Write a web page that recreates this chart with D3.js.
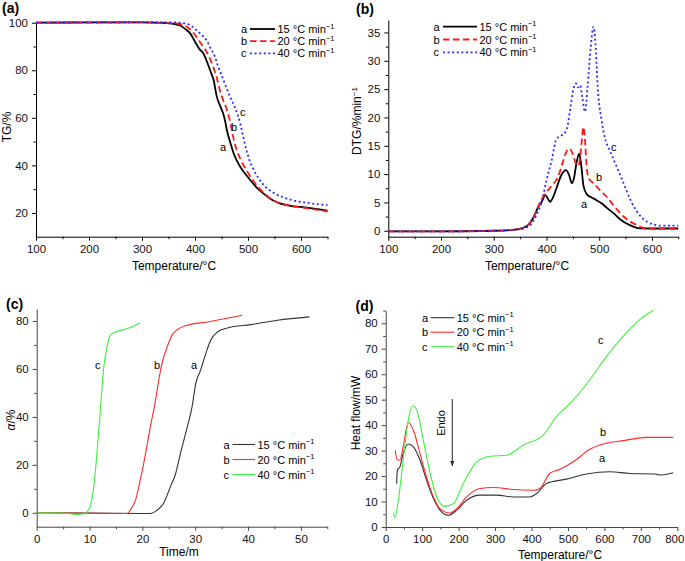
<!DOCTYPE html>
<html><head><meta charset="utf-8">
<script src="https://cdn.jsdelivr.net/npm/d3@7"></script>
<style>
body{margin:0;background:#fff;}
text{font-family:"Liberation Sans",Arial,Helvetica,sans-serif;}
</style></head><body>
<svg id="c" width="685" height="561"></svg>
<script>
// ---------- data ----------
const rateLabels = ["a", "b", "c"];
const rateTexts = ["15 °C min", "20 °C min", "40 °C min"];

const tgA = [[100,100],[200,100.1],[300,100.1],[340,99.9],[360,99.5],[372,98.8],[382,97.3],[391,95.5],[400,92],[408,89],[416,87],[421,84.5],[426,81.6],[431,78.5],[435,76],[441,69],[448,64.7],[454,61.2],[457,58.5],[460,55],[467,49.3],[473,45],[485,39.5],[500,35],[515,31],[530,28],[545,25.5],[560,24],[580,23],[600,22.5],[625,21.8],[650,21]];
const tgB = [[100,100],[300,100.1],[350,99.9],[370,99.5],[383,98.5],[393,96.8],[403,94],[412,91],[420,88.5],[428,85],[435,81],[441,77],[447,71.5],[453,67.5],[460,63.5],[465,59.5],[468,56.5],[472,52],[478,47],[486,42.5],[497,38],[510,33.5],[525,29.5],[540,26.5],[555,24.5],[575,23.2],[600,22.3],[625,21.5],[650,20.6]];
const tgC = [[100,100],[300,100.2],[360,100.1],[380,99.7],[392,98.8],[402,97],[412,95],[422,92.5],[430,89],[437,86],[443,82],[450,78],[457,74],[464,70],[470,67],[476,64],[481,61],[486,57],[491,52],[497,46.5],[503,42],[510,38.5],[520,34.5],[533,31],[548,28.5],[565,26.7],[585,25.3],[610,24.3],[630,23.7],[650,23.3]];

const dtgA = [[100,-0.1],[200,-0.1],[300,0],[340,0.2],[355,0.5],[365,1],[375,2.3],[385,4.3],[391,5.1],[398,6.3],[403,5.6],[407,5.1],[412,5.8],[420,7.8],[428,9.8],[437,10.7],[443,9.8],[448,8.4],[452,9.2],[457,12],[462,13.6],[466,11.5],[470,8],[476,6.5],[485,5.9],[495,5.4],[505,4.8],[515,4],[527,3.1],[540,2],[558,1],[577,0.42],[600,0.4],[650,0.4]];
const dtgB = [[100,-0.1],[200,-0.1],[300,0],[340,0.2],[355,0.5],[365,1],[375,2.2],[385,4.5],[395,6.2],[405,7.4],[415,8.5],[421,9.3],[430,11.8],[438,14],[444,14.5],[450,13.5],[456,11.8],[461,11.5],[465,14],[470,18.3],[473,16],[476,11.5],[480,9.3],[489,8.4],[500,7.3],[514,6],[527,4.5],[540,3.1],[553,2],[565,1.3],[578,0.7],[590,0.4],[650,0.4]];
const dtgC = [[100,-0.1],[200,-0.1],[300,0],[345,0.2],[360,0.5],[372,1.3],[382,3],[391,5.1],[400,8.9],[410,12.5],[419,16.2],[428,16.8],[435,17.3],[440,18.5],[445,21.5],[451,25],[456,26],[460,25.3],[464,25.7],[468,23.5],[473,21],[478,25.5],[484,32.5],[489,36],[493,33],[497,25.5],[504,19.8],[512,16],[520,14.2],[530,12],[540,9.8],[550,7.5],[560,5.3],[570,3.6],[580,2.4],[592,1.5],[603,1.1],[615,0.9],[650,0.9]];

const alphaA = [[0,0],[10,-0.1],[20,-0.3],[21.5,-0.3],[22.8,1.1],[24,3.9],[25.3,10.8],[26.3,16.4],[27.2,24.7],[28.5,35.8],[29.4,44.2],[30.1,53.9],[31,59.4],[32,66.4],[32.9,71.9],[34.2,75.4],[36.1,77.1],[40.5,78.5],[45.6,80.3],[51.6,81.7]];
const alphaB = [[0,0],[10,-0.2],[17.1,-0.3],[17.7,1.1],[18.7,5.3],[19.6,13.6],[20.6,24.7],[21.5,35.8],[22.5,47],[23.1,55.3],[23.7,62.2],[24.7,69.2],[25.6,74],[26.6,76.4],[28.5,78.2],[32.3,79.6],[38.9,82.4]];
const alphaC = [[0,0],[5,-0.1],[7.6,-0.7],[9,-0.4],[9.5,0.4],[10.1,2.5],[10.8,10.8],[11.4,24.7],[12,41.4],[12.7,60.8],[13.3,69],[13.9,74],[14.9,75.4],[17.1,76.8],[19.6,79.2]];

const hfA = [[30,17],[32,22.3],[39,23.6],[48,28.9],[62,32.6],[76,31.5],[94,26.3],[112,18.4],[131,11.2],[149,6.6],[172,4.6],[195,6.6],[222,10.5],[259,12.5],[304,12.5],[350,11.8],[396,11.8],[414,13.1],[441,17.1],[496,18.8],[551,20.8],[615,21.7],[670,21],[739,20.8],[752,20.4],[789,21.3]];
const hfB = [[26,30.2],[32,26.3],[39,26.3],[48,31.5],[62,41],[76,38],[94,28.9],[112,19.7],[131,11.8],[149,7.2],[176,5.5],[195,7.2],[222,11.8],[259,15.1],[295,15.5],[350,14.7],[405,14.4],[423,15.1],[450,21],[478,22.7],[515,25.6],[560,30.5],[597,32.6],[652,33.9],[716,35.2],[789,35.2]];
const hfC = [[21,5.3],[25.6,3.7],[34.7,10.5],[48,26.3],[62,42],[74,47.6],[85,46],[103,34.2],[122,21],[140,11.8],[163,8.1],[186,9.2],[213,17.1],[250,25.6],[286,27.8],[332,28.2],[378,32.2],[432,36.1],[469,43.3],[515,49.9],[560,57.8],[606,67],[652,74.9],[697,81.4],[734,85.1]];

const tempMajor = [100,200,300,400,500,600];
const tgTicks = [20,40,60,80,100];
const dtgTicks = [0,5,10,15,20,25,30,35];
const timeTicks = [0,10,20,30,40,50];
const alphaTicks = [0,20,40,60,80];
const hfXTicks = [0,100,200,300,400,500,600,700,800];
const hfYTicks = [0,10,20,30,40,50,60,70,80];

// ---------- drawing ----------
const svg = d3.select("#c");

function panel(cfg){
  const g = svg.append("g");
  const x = d3.scaleLinear().domain(cfg.xd).range(cfg.xr);
  const y = d3.scaleLinear().domain(cfg.yd).range(cfg.yr);
  const ac = cfg.axisColor;
  const ax = g.append("g").attr("transform",`translate(0,${cfg.yr[0]})`)
    .call(d3.axisBottom(x).tickValues(cfg.xt).tickSize(4).tickSizeOuter(0).tickPadding(4).tickFormat(d3.format("d")));
  g.append("g").attr("transform",`translate(0,${cfg.yr[0]})`)
    .call(d3.axisBottom(x).tickValues(cfg.xm).tickSize(2.5).tickSizeOuter(0).tickFormat(""))
    .select(".domain").remove();
  const ay = g.append("g").attr("transform",`translate(${cfg.xr[0]},0)`)
    .call(d3.axisLeft(y).tickValues(cfg.yt).tickSize(4).tickSizeOuter(0).tickPadding(4).tickFormat(d3.format("d")));
  g.append("g").attr("transform",`translate(${cfg.xr[0]},0)`)
    .call(d3.axisLeft(y).tickValues(cfg.ym).tickSize(2.5).tickSizeOuter(0).tickFormat(""))
    .select(".domain").remove();
  g.selectAll(".tick text").attr("font-size",11.5).attr("fill","#111").attr("font-family",'"Liberation Sans",Arial,sans-serif');
  g.selectAll(".domain,.tick line").attr("stroke",ac).attr("stroke-width",1);
  if (cfg.lastDx) ax.selectAll(".tick:last-of-type text").attr("dx",cfg.lastDx);

  const line = d3.line().x(d=>x(d[0])).y(d=>y(d[1])).curve(d3.curveMonotoneX);
  cfg.series.forEach(s=>{
    g.append("path").datum(s.data).attr("d",line).attr("fill","none")
      .attr("stroke",s.color).attr("stroke-width",s.w)
      .attr("stroke-dasharray",s.dash||null);
  });
  // panel tag
  g.append("text").attr("x",cfg.tag[1]).attr("y",cfg.tag[2]).attr("font-weight","bold")
    .attr("font-size",14).text(cfg.tag[0]);
  // axis titles
  g.append("text").attr("x",cfg.xtitle[1]).attr("y",cfg.xtitle[2]).attr("text-anchor","middle")
    .attr("font-size",12).text(cfg.xtitle[0]);
  const yt = g.append("text").attr("transform",`translate(${cfg.ytitle.x},${cfg.ytitle.y}) rotate(-90)`)
    .attr("text-anchor","middle").attr("font-size",12);
  cfg.ytitle.parts(yt);
  // legend
  const L = cfg.legend;
  cfg.series.forEach((s,i)=>{
    const yy = L.y0 + i*L.dy;
    g.append("text").attr("x",L.xa).attr("y",yy+4).attr("font-size",11).text(rateLabels[i]);
    g.append("line").attr("x1",L.x1).attr("x2",L.x2).attr("y1",yy).attr("y2",yy)
      .attr("stroke",s.color).attr("stroke-width",s.w).attr("stroke-dasharray",s.dash||null);
    const t = g.append("text").attr("x",L.xt).attr("y",yy+4).attr("font-size",11);
    t.append("tspan").text(rateTexts[i]);
    t.append("tspan").attr("dy",-4.5).attr("font-size",7.5).text("−1");
  });
  // curve labels (order a, b, c)
  cfg.labels.forEach((p,i)=>{
    g.append("text").attr("x",p[0]).attr("y",p[1]).attr("font-size",11).text(rateLabels[i]);
  });
  return {g,x,y};
}

const thickSeries = (a,b,c)=>[
  {data:a,color:"#000",w:1.8},
  {data:b,color:"#ff1a1a",w:1.8,dash:"6.5,3.5"},
  {data:c,color:"#2b2bff",w:1.8,dash:"2,2.6"}
];
const thinSeries = (a,b,c)=>[
  {data:a,color:"#333",w:1.1},
  {data:b,color:"#ff2a2a",w:1.1},
  {data:c,color:"#3df03d",w:1.1}
];

panel({
  xd:[100,650], xr:[36,327.5], yd:[10,100], yr:[236.7,22.7],
  xt:tempMajor, xm:[150,250,350,450,550,650], yt:tgTicks, ym:[30,50,70,90],
  axisColor:"#000", series:thickSeries(tgA,tgB,tgC),
  tag:["(a)",2,13], xtitle:["Temperature/°C",174,270],
  ytitle:{x:11,y:127,parts:t=>t.text("TG/%")},
  legend:{xa:241,x1:250,x2:275,xt:277.5,y0:29,dy:12.2},
  labels:[[220,151],[231,131],[240,116]]
});

panel({
  xd:[100,650], xr:[388.3,678.3], yd:[-1.05,37.2], yr:[236.7,20],
  xt:tempMajor, xm:[150,250,350,450,550,650], yt:dtgTicks, ym:[2.5,7.5,12.5,17.5,22.5,27.5,32.5],
  axisColor:"#000", series:thickSeries(dtgA,dtgB,dtgC),
  tag:["(b)",356,13.5], xtitle:["Temperature/°C",527,270],
  ytitle:{x:361,y:121,parts:t=>{t.append("tspan").text("DTG/%min");t.append("tspan").attr("dy",-4.5).attr("font-size",8).text("−1");}},
  legend:{xa:433.5,x1:443,x2:477,xt:479.5,y0:26.7,dy:12.8},
  labels:[[581,208],[596,181],[611,151]]
});

panel({
  xd:[0,55], xr:[36.7,327.3], yd:[-5.8,85], yr:[526.7,309],
  xt:timeTicks, xm:[5,15,25,35,45,55], yt:alphaTicks, ym:[10,30,50,70],
  axisColor:"#444", series:thinSeries(alphaA,alphaB,alphaC),
  tag:["(c)",6,309], xtitle:["Time/m",179,556],
  ytitle:{x:15,y:420,parts:t=>{t.append("tspan").attr("font-style","italic").text("α");t.append("tspan").text("/%");}},
  legend:{xa:223.5,x1:232.5,x2:255,xt:257.5,y0:444.5,dy:15},
  labels:[[191,369],[154,369],[95,369]]
});

const D = panel({
  xd:[0,800], xr:[385.7,677.3], yd:[0,85], yr:[527,310.5],
  xt:hfXTicks, xm:[50,150,250,350,450,550,650,750], yt:hfYTicks, ym:[5,15,25,35,45,55,65,75,85],
  axisColor:"#444", series:thinSeries(hfA,hfB,hfC), lastDx:-3,
  tag:["(d)",355.5,311], xtitle:["Temperature/°C",560,559],
  ytitle:{x:360,y:413,parts:t=>t.text("Heat flow/mW")},
  legend:{xa:422,x1:430.7,x2:454.3,xt:456.7,y0:317.7,dy:14.5},
  labels:[[599,462],[600,436],[598,344]]
});
// Endo arrow
svg.append("defs").append("marker").attr("id","ah").attr("viewBox","0 0 10 10")
  .attr("refX",10).attr("refY",5).attr("markerWidth",5).attr("markerHeight",5)
  .attr("orient","auto").append("path").attr("d","M0,1 L10,5 L0,9 Z").attr("fill","#222");
D.g.append("line").attr("x1",452.3).attr("x2",452.3).attr("y1",399).attr("y2",466)
  .attr("stroke","#222").attr("stroke-width",1).attr("marker-end","url(#ah)");
D.g.append("text").attr("transform","translate(445,423) rotate(-90)").attr("text-anchor","middle")
  .attr("font-size",11).text("Endo");
</script></body></html>
